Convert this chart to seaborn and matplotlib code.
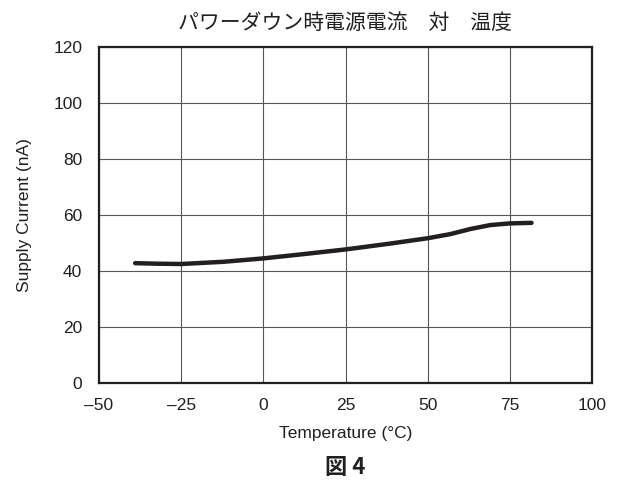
import matplotlib
matplotlib.use("Agg")
import matplotlib.pyplot as plt
import seaborn as sns
import pandas as pd

temperature = [-39, -32, -25, -12, 0, 12, 25, 38, 50, 57, 63, 69, 75, 81.6]
current = [42.8, 42.6, 42.5, 43.3, 44.5, 46.0, 47.7, 49.7, 51.7, 53.2, 55.0, 56.4, 57.0, 57.2]

x_ticks = [-50, -25, 0, 25, 50, 75, 100]
x_tick_labels = ["\u201350", "\u201325", "0", "25", "50", "75", "100"]
y_ticks = [0, 20, 40, 60, 80, 100, 120]

title = "パワーダウン時電源電流　対　温度"
x_label = "Temperature (\u00b0C)"
y_label = "Supply Current (nA)"
caption = "図 4"

sns.set_theme(style="white")
plt.rcParams["font.family"] = ["Liberation Sans", "Noto Sans CJK JP", "DejaVu Sans"]

df = pd.DataFrame({"T": temperature, "I": current})

fig = plt.figure(figsize=(6.18, 4.86), dpi=100)
ax = fig.add_axes([99 / 618, 1 - 383 / 486, 493 / 618, 336 / 486])

sns.lineplot(data=df, x="T", y="I", ax=ax, color="#231f20", linewidth=3.2)

ax.set_xlim(-50, 100)
ax.set_ylim(0, 120)
ax.set_xticks(x_ticks)
ax.set_xticklabels(x_tick_labels)
ax.set_yticks(y_ticks)
ax.grid(True, color="#555555", linewidth=0.8)
for s in ax.spines.values():
    s.set_color("#231f20")
    s.set_linewidth(1.6)
ax.tick_params(axis="both", labelsize=12.5, colors="#231f20", length=0)
ax.tick_params(axis="x", pad=11)
ax.tick_params(axis="y", pad=12)

ax.set_xlabel(x_label, fontsize=12.5, color="#231f20")
ax.set_ylabel(y_label, fontsize=12.5, color="#231f20")
ax.xaxis.set_label_coords(0.5, -0.128)
ax.yaxis.set_label_coords(-0.136, 0.5)
ax.set_title(title, fontsize=15, color="#231f20", pad=13,
             family=["Noto Sans CJK JP", "DejaVu Sans"])

fig.text(345 / 618, 1 - 467 / 486, caption, ha="center", va="center",
         fontsize=16, fontweight="bold", color="#231f20",
         family=["Noto Sans CJK JP", "DejaVu Sans"])

fig.savefig("out.png", dpi=100)
